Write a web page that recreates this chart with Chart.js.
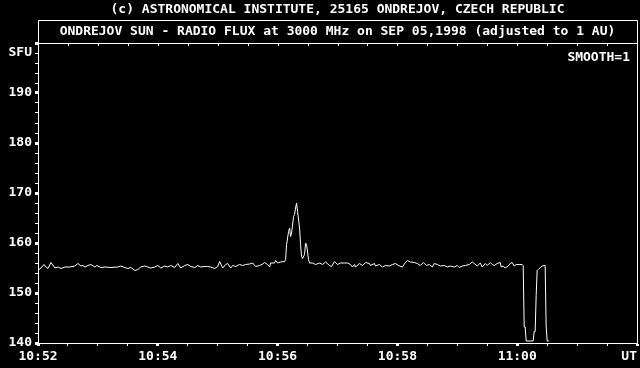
<!DOCTYPE html>
<html>
<head>
<meta charset="utf-8">
<script src="https://cdn.jsdelivr.net/npm/chart.js@4.4.1/dist/chart.umd.min.js"></script>
<style>
html,body{margin:0;padding:0;background:#000;}
#wrap{width:640px;height:368px;position:relative;}
</style>
</head>
<body>
<div id="wrap"><canvas id="c" width="640" height="368"></canvas></div>
<script>
// seconds after 10:52:00 UT
const times = [
0,3,6,8,10,13,17,20,23,27,32,37,40,43,45,47,50,53,57,59,63,67,73,80,83,87,90,93,97,100,
103,107,110,113,117,120,123,127,130,133,137,140,143,147,
150,153,157,160,163,167,170,173,177,180,182,185,188,190,193,195,198,202,205,208,212,215,218,222,225,227,230,232,233,237,238,240,243,247,248,
249,251,252,253,254,256,257,258,259,260,262,263,264,265,267,268,269,271,272,275,278,282,285,288,292,294,297,
300,303,307,310,313,315,317,318,322,325,328,332,333,337,338,342,345,348,352,355,358,362,365,368,370,373,377,380,383,386,389,392,395,397,
400,403,407,410,413,417,420,422,425,428,432,435,437,440,443,445,448,
450,453,455,457,460,463,464,466,468,471,473,475,477,479,482,485,486,487,488,489,495,496,497,498,499,500,501,502,503,505,507,508,509,510,512
];
// solar radio flux, SFU
const flux = [
154.5,155.0,155.7,155.2,154.9,156.1,155.0,155.2,154.9,155.2,155.2,155.4,155.9,155.4,155.5,155.2,155.5,155.7,155.2,155.5,155.1,155.2,155.1,155.2,155.4,155.1,154.9,155.1,154.5,154.7,
155.2,155.4,155.2,155.0,155.2,155.5,155.0,155.4,155.2,155.5,155.1,155.9,155.0,155.5,
155.7,155.3,155.1,155.5,155.2,155.3,155.3,155.2,154.9,155.3,156.3,155.0,155.7,155.9,155.0,155.5,155.3,155.7,155.5,155.7,155.8,156.0,155.3,155.5,155.8,156.1,155.7,155.2,156.0,156.0,156.5,156.0,156.2,156.3,156.7,
159.7,162.3,163.0,161.3,162.0,165.3,165.7,167.0,168.0,166.3,163.0,159.7,157.3,156.9,157.7,160.0,159.7,156.7,156.0,156.0,155.7,156.0,155.7,156.2,155.5,155.3,156.3,
155.7,156.0,156.0,156.0,155.7,155.2,155.7,155.2,155.9,155.5,156.1,155.9,155.5,155.9,155.4,155.7,155.2,155.5,155.4,155.7,155.9,155.4,155.2,156.1,156.5,156.2,156.1,155.9,155.5,156.1,155.5,155.7,155.2,155.9,
155.7,155.4,155.5,155.2,155.4,155.2,155.5,155.1,155.4,155.5,155.7,156.2,155.9,155.4,156.0,155.2,155.9,
155.5,156.1,155.7,155.5,155.9,156.1,155.2,155.4,155.0,155.4,155.9,156.1,155.4,155.7,155.7,155.7,155.5,143.2,143.2,140.4,140.4,140.4,142.3,142.3,149.5,154.5,154.7,154.9,155.0,155.4,155.5,155.5,143.4,140.4,140.4
];
const xTickLabels = ['10:52','10:54','10:56','10:58','11:00'];
const yTickLabels = [140,150,160,170,180,190];
const titleText = '(c) ASTRONOMICAL INSTITUTE, 25165 ONDREJOV, CZECH REPUBLIC';
const subtitleText = 'ONDREJOV SUN - RADIO FLUX at 3000 MHz on SEP 05,1998 (adjusted to 1 AU)';
const yUnit = 'SFU';
const xUnit = 'UT';
const smoothText = 'SMOOTH=1';

const FONT = '"DejaVu Sans Mono", "Liberation Mono", monospace';
const W = '#ffffff';

const framePlugin = {
  id: 'frame',
  beforeDraw(chart) {
    const ctx = chart.ctx;
    ctx.save();
    ctx.fillStyle = '#000';
    ctx.fillRect(0, 0, chart.width, chart.height);
    ctx.restore();
  },
  afterDraw(chart) {
    const ctx = chart.ctx;
    const a = chart.chartArea;
    const xs = chart.scales.x;
    ctx.save();
    ctx.strokeStyle = W;
    ctx.lineWidth = 1;
    const L = Math.round(a.left) + 0.5, R = Math.round(a.right) + 0.5;
    const T = Math.round(a.top) + 0.5, B = Math.round(a.bottom) + 0.5;
    const boxTop = 20.5;
    ctx.beginPath();
    ctx.moveTo(L, boxTop); ctx.lineTo(R, boxTop);
    ctx.moveTo(L, T); ctx.lineTo(R, T);
    ctx.moveTo(L, boxTop); ctx.lineTo(L, B);
    ctx.moveTo(R, boxTop); ctx.lineTo(R, B);
    ctx.stroke();
    // inward ticks on top edge
    ctx.beginPath();
    for (let v = 30; v < 600; v += 30) {
      const px = Math.round(xs.getPixelForValue(v)) + 0.5;
      ctx.moveTo(px, T); ctx.lineTo(px, T + 2.5);
    }
    ctx.stroke();
    // texts
    ctx.fillStyle = W;
    ctx.font = 'bold 13px ' + FONT;
    ctx.textBaseline = 'middle';
    ctx.textAlign = 'right';
    ctx.fillText(yUnit, 32, 52.5);
    ctx.fillText(xUnit, 637, xs.top + 14);
    ctx.fillText(smoothText, 630, 58);
    ctx.restore();
  }
};

new Chart(document.getElementById('c'), {
  type: 'line',
  data: {
    datasets: [{
      data: times.map((t, i) => ({x: t, y: flux[i]})),
      borderColor: W,
      borderWidth: 1,
      pointRadius: 0,
      tension: 0,
      fill: false
    }]
  },
  options: {
    responsive: false,
    animation: false,
    events: [],
    layout: {padding: {top: 0, left: 0, right: 2, bottom: 0}},
    plugins: {
      legend: {display: false},
      tooltip: {enabled: false},
      title: {
        display: true, text: titleText, color: W, fullSize: false,
        font: {family: FONT, size: 13, weight: 'bold', lineHeight: 1.2},
        padding: {top: 2, bottom: 0}
      },
      subtitle: {
        display: true, text: subtitleText, color: W, fullSize: false,
        font: {family: FONT, size: 13, weight: 'bold', lineHeight: 1.2},
        padding: {top: 6, bottom: 3.8}
      }
    },
    scales: {
      x: {
        type: 'linear', min: 0, max: 600,
        afterFit(s) { s.height = 25; },
        border: {display: true, color: W, width: 1},
        grid: {
          display: true, drawOnChartArea: false, drawTicks: true, tickLength: 3,
          tickColor: W,
          tickWidth: c => (c.tick && c.tick.value % 120 === 0) ? 3 : 1
        },
        ticks: {
          stepSize: 30, autoSkip: false, maxRotation: 0, color: W, padding: 3,
          font: {family: FONT, size: 13, weight: 'bold'},
          callback: v => (v % 120 === 0 && v / 120 < xTickLabels.length) ? xTickLabels[v / 120] : ''
        }
      },
      y: {
        type: 'linear', min: 140, max: 200,
        afterFit(s) { s.width = 38; },
        border: {display: true, color: W, width: 1},
        grid: {
          display: true, drawOnChartArea: false, drawTicks: true, tickLength: 3,
          tickColor: W,
          tickWidth: c => (c.tick && c.tick.value % 10 === 0) ? 3 : 1
        },
        ticks: {
          stepSize: 2, autoSkip: false, color: W, padding: 3,
          font: {family: FONT, size: 13, weight: 'bold'},
          callback: v => yTickLabels.includes(v) ? String(v) : ''
        }
      }
    }
  },
  plugins: [framePlugin]
});
</script>
</body>
</html>
